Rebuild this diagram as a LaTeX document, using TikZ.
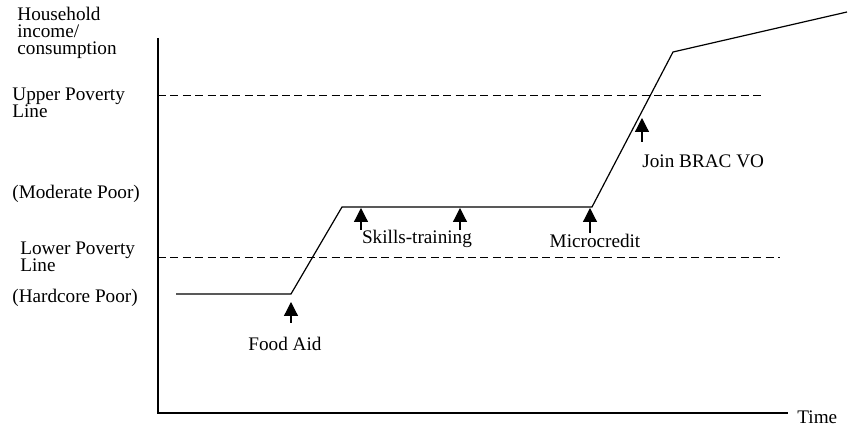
\documentclass[tikz,border=0pt]{standalone}
\usepackage{fontspec}
\setmainfont{Liberation Serif}
\usetikzlibrary{arrows.meta}

\begin{document}
\begin{tikzpicture}[x=0.5pt,y=-0.5pt,
  lbl/.style={font=\fontsize{9.6}{8.6}\selectfont,inner sep=0,align=left},
  pline/.style={dash pattern=on 4pt off 2.2pt,line width=0.5pt},
  push/.style={-{Triangle[width=7pt,length=7pt]},line width=0.6pt}]
\useasboundingbox (0,0) rectangle (848,426);
% axes
\draw[line width=0.7pt] (158,38) -- (158,413) -- (788,413);
\node[lbl,anchor=west] (yax) at (17,33) {Household\\income/\\consumption};
\node[lbl,anchor=west] (time) at (797,417) {Time};
% poverty lines
\draw[pline] (158,96) -- (765,96);
\draw[pline] (158,258) -- (780,258);
\node[lbl,anchor=west] (upl) at (12,103) {Upper Poverty\\Line};
\node[lbl,anchor=west] (mod) at (12,194) {(Moderate Poor)};
\node[lbl,anchor=west] (lpl) at (20,257) {Lower Poverty\\Line};
\node[lbl,anchor=west] (hcp) at (12,298) {(Hardcore Poor)};
% household path
\coordinate (p0) at (176,294);
\coordinate (p1) at (291,294);
\coordinate (p2) at (342,207);
\coordinate (p3) at (592,207);
\coordinate (p4) at (673,52);
\coordinate (p5) at (847,12);
\draw[line width=0.6pt] (p0) -- (p1) -- (p2) -- (p3) -- (p4) -- (p5);
% interventions
\node[lbl] (food) at (285,344) {Food Aid};
\node[lbl] (skill) at (417,239) {Skills-training};
\node[lbl] (micro) at (595,241) {Microcredit};
\node[lbl,anchor=west] (brac) at (642,161) {Join BRAC VO};
\coordinate (fa) at (291,323);
\coordinate (sk1) at (361,230);
\coordinate (sk2) at (460,230);
\coordinate (mc) at (590,233);
\coordinate (jb) at (642,142);
\draw[push] (fa) -- (291,302);
\draw[push] (sk1) -- (361,208);
\draw[push] (sk2) -- (460,208);
\draw[push] (mc) -- (590,208);
\draw[push] (jb) -- (642,118);
\end{tikzpicture}
\end{document}
